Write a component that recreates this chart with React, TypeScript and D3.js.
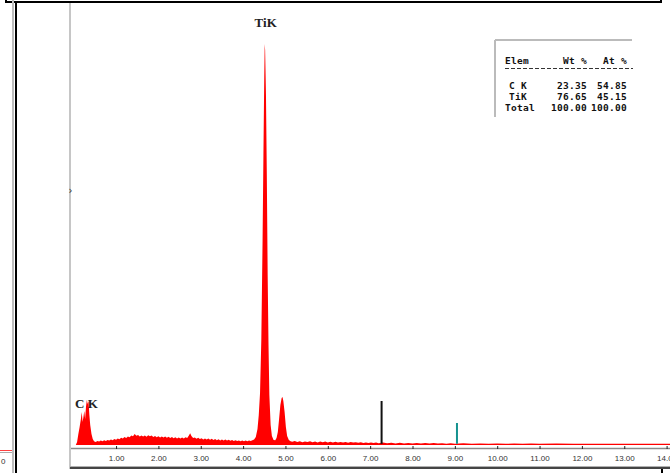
import { useRef, useEffect } from "react";
import * as d3 from "d3";

// EDS spectrum, [energy keV, counts]
const spectrum: [number, number][] = [
  [0.05, 0], [0.08, 30], [0.11, 110], [0.14, 180], [0.17, 260], [0.19, 330], [0.21, 230],
  [0.23, 280], [0.25, 340], [0.27, 260], [0.29, 380], [0.31, 450], [0.33, 410], [0.35, 440],
  [0.37, 300], [0.39, 200], [0.42, 110], [0.45, 60], [0.48, 38],
  [0.52, 30], [0.56, 40], [0.6, 34], [0.64, 45], [0.68, 38], [0.72, 48], [0.76, 40], [0.8, 50],
  [0.84, 44], [0.88, 55], [0.92, 48], [0.96, 60], [1.0, 52], [1.04, 66], [1.08, 58], [1.12, 72],
  [1.16, 64], [1.2, 80], [1.24, 70], [1.28, 86], [1.32, 78], [1.36, 95], [1.4, 88], [1.44, 110],
  [1.48, 92], [1.52, 100], [1.56, 86], [1.6, 96], [1.64, 84], [1.68, 94], [1.72, 82], [1.76, 98],
  [1.8, 88], [1.84, 94], [1.88, 80], [1.92, 90], [1.96, 78], [2.0, 88], [2.04, 76], [2.08, 86],
  [2.12, 74], [2.16, 84], [2.2, 72], [2.24, 82], [2.28, 70], [2.32, 80], [2.36, 68], [2.4, 78],
  [2.44, 66], [2.48, 76], [2.52, 64], [2.56, 74], [2.6, 66], [2.64, 78], [2.68, 70], [2.72, 96],
  [2.75, 118], [2.78, 90], [2.82, 70], [2.86, 76], [2.9, 62], [2.94, 72], [2.98, 60], [3.02, 68],
  [3.06, 56], [3.1, 66], [3.14, 54], [3.18, 64], [3.22, 52], [3.26, 62], [3.3, 50], [3.34, 60],
  [3.38, 48], [3.42, 58], [3.46, 46], [3.5, 56], [3.54, 44], [3.58, 54], [3.62, 44], [3.66, 52],
  [3.7, 42], [3.74, 50], [3.78, 40], [3.82, 48], [3.86, 40], [3.9, 46], [3.94, 38], [3.98, 46],
  [4.02, 38], [4.06, 44], [4.1, 38], [4.14, 46], [4.18, 40], [4.22, 48], [4.26, 56],
  [4.3, 80], [4.34, 160], [4.37, 300], [4.4, 520], [4.43, 1050], [4.46, 2050], [4.48, 2900],
  [4.5, 3700], [4.51, 4010], [4.52, 3950], [4.54, 3500], [4.56, 2700], [4.58, 1700], [4.6, 1000],
  [4.62, 500], [4.65, 200], [4.68, 90], [4.72, 50], [4.76, 48], [4.79, 70], [4.82, 130],
  [4.85, 260], [4.88, 400], [4.91, 470], [4.93, 480], [4.95, 440], [4.98, 330], [5.01, 180],
  [5.04, 90], [5.08, 50], [5.12, 38],
  [5.16, 32], [5.22, 40], [5.28, 30], [5.34, 38], [5.4, 28], [5.46, 36], [5.52, 30], [5.58, 38],
  [5.64, 28], [5.7, 34], [5.76, 26], [5.82, 34], [5.88, 28], [5.94, 36], [6.0, 26], [6.06, 32],
  [6.12, 24], [6.18, 32], [6.24, 26], [6.3, 30], [6.36, 24], [6.42, 30], [6.48, 22], [6.54, 30],
  [6.6, 24], [6.66, 28], [6.72, 22], [6.78, 28], [6.84, 20], [6.9, 26], [6.96, 20], [7.02, 26],
  [7.08, 20], [7.14, 24], [7.2, 18], [7.3, 24], [7.4, 18], [7.5, 22], [7.6, 16], [7.7, 22],
  [7.8, 16], [7.9, 20], [8.0, 15], [8.1, 20], [8.2, 15], [8.3, 19], [8.4, 14], [8.5, 19],
  [8.6, 14], [8.7, 18], [8.8, 13], [8.9, 18], [9.0, 13], [9.2, 17], [9.4, 12], [9.6, 16],
  [9.8, 12], [10.0, 15], [10.2, 12], [10.4, 15], [10.6, 12], [10.8, 14], [11.0, 12], [11.4, 14],
  [11.8, 12], [12.2, 13], [12.6, 12], [13.0, 12], [13.5, 12], [14.0, 12], [14.5, 12],
];

const tickEnergies = [1, 2, 3, 4, 5, 6, 7, 8, 9, 10, 11, 12, 13, 14];
const tickLabels = ["1.00", "2.00", "3.00", "4.00", "5.00", "6.00", "7.00", "8.00", "9.00", "10.00", "11.00", "12.00", "13.00", "14.00"];

const peakNames = ["TiK", "C K"];
const peakEnergies = [4.51, 0.277];
const peakLabelCounts = [4180, 370];

const markerEnergies = [7.27, 9.05];
const markerCounts = [440, 220];
const markerColors = ["#111111", "#14928f"];

const tableElems = ["C K", "TiK", "Total"];
const tableWt = ["23.35", "76.65", "100.00"];
const tableAt = ["54.85", "45.15", "100.00"];

export default function App() {
  const svgRef = useRef<SVGSVGElement>(null);

  useEffect(() => {
    if (!svgRef.current) return;
    const svg = d3.select(svgRef.current);
    svg.selectAll("*").remove();

    const width = 670;
    const height = 473;

    const x = d3.scaleLinear().domain([0, 14]).range([73.7, 666.6]);
    const y = d3.scaleLinear().domain([0, 4000]).range([445, 45]);

    svg.append("rect").attr("width", width).attr("height", height).attr("fill", "#ffffff");

    // window chrome
    svg.append("path").attr("d", "M6,0 V2 H661 V0").attr("fill", "none").attr("stroke", "#000").attr("stroke-width", 2);
    svg.append("line").attr("x1", 13).attr("x2", 13).attr("y1", 0).attr("y2", height).attr("stroke", "#bdbdbd").attr("stroke-width", 2);
    svg.append("line").attr("x1", 16).attr("x2", 16).attr("y1", 2).attr("y2", height).attr("stroke", "#000").attr("stroke-width", 2);
    svg.append("line").attr("x1", 0).attr("x2", 12).attr("y1", 450.5).attr("y2", 450.5).attr("stroke", "#ff4040").attr("stroke-width", 1);
    svg.append("line").attr("x1", 0).attr("x2", 12).attr("y1", 452.5).attr("y2", 452.5).attr("stroke", "#aaaaaa").attr("stroke-width", 1);
    svg.append("text").attr("x", 1).attr("y", 464).attr("font-family", "Liberation Sans, Arial, sans-serif")
      .attr("font-size", "8px").attr("fill", "#333").text("0");
    svg.append("line").attr("x1", 662).attr("x2", 662).attr("y1", 469).attr("y2", height).attr("stroke", "#000").attr("stroke-width", 2);

    // plot frame
    svg.append("line").attr("x1", 70).attr("x2", 70).attr("y1", 3).attr("y2", 469).attr("stroke", "#c6c6c6").attr("stroke-width", 2);
    svg.append("line").attr("x1", 70).attr("x2", width).attr("y1", 466.5).attr("y2", 466.5).attr("stroke", "#b0b0b0").attr("stroke-width", 1);
    svg.append("line").attr("x1", 70).attr("x2", width).attr("y1", 468).attr("y2", 468).attr("stroke", "#444").attr("stroke-width", 2);
    svg.append("text").attr("x", 68.5).attr("y", 194).attr("font-family", "DejaVu Sans, sans-serif")
      .attr("font-size", "10px").attr("fill", "#333").text("\u203A");

    // spectrum
    const area = d3
      .area<[number, number]>()
      .x((d) => x(d[0]))
      .y0(y(0))
      .y1((d) => y(d[1]));
    svg.append("path").datum(spectrum).attr("d", area).attr("fill", "#ff0000");

    // line markers
    markerEnergies.forEach((e, i) => {
      svg.append("line")
        .attr("x1", x(e)).attr("x2", x(e))
        .attr("y1", y(markerCounts[i])).attr("y2", y(12))
        .attr("stroke", markerColors[i]).attr("stroke-width", 2);
    });

    // axis
    svg.append("line").attr("x1", 71).attr("x2", width).attr("y1", 448.5).attr("y2", 448.5).attr("stroke", "#8a8a8a").attr("stroke-width", 1.5);
    const axis = svg
      .append("g")
      .attr("transform", "translate(0,449)")
      .call(
        d3.axisBottom(x)
          .tickValues(tickEnergies)
          .tickFormat((_, i) => tickLabels[i])
          .tickSizeInner(-3)
          .tickSizeOuter(0)
          .tickPadding(6)
      );
    axis.select(".domain").remove();
    axis.selectAll(".tick line").attr("stroke", "#222");
    axis.selectAll(".tick text")
      .attr("font-family", "Liberation Sans, Arial, sans-serif")
      .attr("font-size", "8px")
      .attr("fill", "#333");

    // peak labels
    peakNames.forEach((n, i) => {
      svg.append("text")
        .attr("x", x(peakEnergies[i]) + 1)
        .attr("y", y(peakLabelCounts[i]))
        .attr("text-anchor", "middle")
        .attr("font-family", "Liberation Serif, Times New Roman, serif")
        .attr("font-weight", "bold")
        .attr("font-size", "13px")
        .attr("fill", "#222")
        .text(n);
    });

    // quant table
    const tbl = svg.append("g");
    tbl.append("line").attr("x1", 495).attr("x2", 632).attr("y1", 40).attr("y2", 40).attr("stroke", "#bbbbbb").attr("stroke-width", 2);
    tbl.append("line").attr("x1", 495).attr("x2", 495).attr("y1", 40).attr("y2", 117).attr("stroke", "#bbbbbb").attr("stroke-width", 2);
    const txt = (s: string, tx: number, ty: number, anchor: string) =>
      tbl.append("text")
        .attr("x", tx).attr("y", ty)
        .attr("text-anchor", anchor)
        .attr("font-family", "DejaVu Sans Mono, monospace")
        .attr("font-weight", "bold")
        .attr("font-size", "9.5px")
        .attr("letter-spacing", "0.3px")
        .attr("fill", "#111")
        .text(s);
    txt("Elem", 505, 63.5, "start");
    txt("Wt %", 587, 63.5, "end");
    txt("At %", 627, 63.5, "end");
    tbl.append("line").attr("x1", 505).attr("x2", 633).attr("y1", 68.5).attr("y2", 68.5)
      .attr("stroke", "#333").attr("stroke-width", 1).attr("stroke-dasharray", "4,2");
    tableElems.forEach((el, i) => {
      const ty = 88.5 + i * 11;
      if (el === "Total") txt(el, 505, ty, "start");
      else txt(el, 527, ty, "end");
      txt(tableWt[i], 587, ty, "end");
      txt(tableAt[i], 627, ty, "end");
    });
  }, []);

  return (
    <div style={{ position: "absolute", left: 0, top: 0, width: 670, height: 473 }}>
      <svg ref={svgRef} width={670} height={473} style={{ display: "block" }} />
    </div>
  );
}
